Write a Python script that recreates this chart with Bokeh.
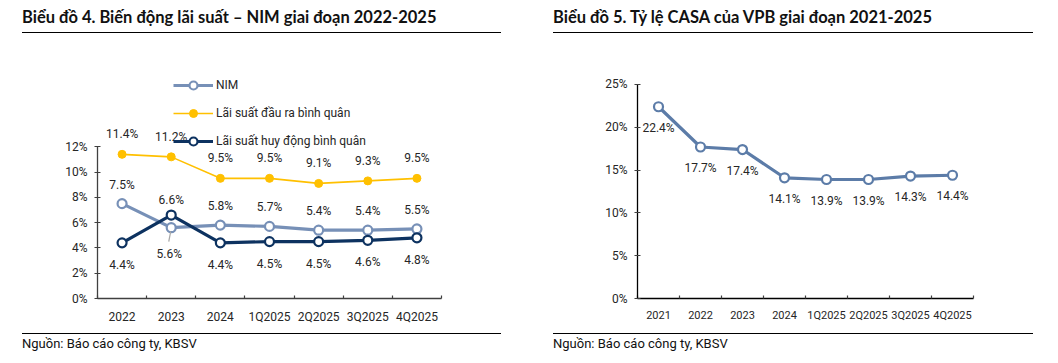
import numpy as np
from bokeh.plotting import figure
from bokeh.models import (FixedTicker, PrintfTickFormatter, Div, Legend, LegendItem,
                          Range1d)
from bokeh.layouts import column, row
from bokeh.embed import file_html
from bokeh.resources import INLINE
from bokeh.core.properties import value

# ---------------- data ----------------
categories_1 = ["2022", "2023", "2024", "1Q2025", "2Q2025", "3Q2025", "4Q2025"]
nim = [7.5, 5.6, 5.8, 5.7, 5.4, 5.4, 5.5]
lending_rate = [11.4, 11.2, 9.5, 9.5, 9.1, 9.3, 9.5]
deposit_rate = [4.4, 6.6, 4.4, 4.5, 4.5, 4.6, 4.8]
y_ticks_1 = [0, 2, 4, 6, 8, 10, 12]

categories_2 = ["2021", "2022", "2023", "2024", "1Q2025", "2Q2025", "3Q2025", "4Q2025"]
casa = [22.4, 17.7, 17.4, 14.1, 13.9, 13.9, 14.3, 14.4]
y_ticks_2 = [0, 5, 10, 15, 20, 25]

title_1 = "Biểu đồ 4. Biến động lãi suất – NIM giai đoạn 2022-2025"
title_2 = "Biểu đồ 5. Tỷ lệ CASA của VPB giai đoạn 2021-2025"
source_text = "Nguồn: Báo cáo công ty, KBSV"
legend_labels = ["NIM", "Lãi suất đầu ra bình quân", "Lãi suất huy động bình quân"]

# ---------------- style ----------------
FONT = "Roboto"
TFONT = "Lato"
FS = "12px"
TXT = "#262626"
AX = "#404040"
C_NIM = "#7790b7"
C_LEND = "#FFC000"
C_DEP = "#0d3260"
C_CASA = "#5c7ca8"
W, H = 521, 297


def fmt(v):
    return f"{v:.1f}%"


def style_axes(p, n, yticks, ymax_axis, xfs, xstand):
    centers = [2 * i + 1 for i in range(n)]
    bounds = [2 * i for i in range(n + 1)]
    p.xaxis.ticker = FixedTicker(ticks=centers, minor_ticks=bounds)
    p.xaxis.major_tick_out = 0
    p.xaxis.major_tick_in = 0
    p.xaxis.minor_tick_in = 3
    p.xaxis.minor_tick_out = 0
    p.xaxis.minor_tick_line_color = AX
    p.xaxis.minor_tick_line_width = 1.2
    p.yaxis.ticker = FixedTicker(ticks=yticks)
    p.yaxis.formatter = PrintfTickFormatter(format="%d%%")
    p.yaxis.bounds = (0, ymax_axis)
    p.yaxis.major_tick_in = 3
    p.yaxis.major_tick_out = 3
    p.yaxis.minor_tick_line_color = None
    for ax in (p.xaxis, p.yaxis):
        ax.axis_line_color = AX
        ax.axis_line_width = 1.3
        ax.major_tick_line_width = 1.2
        ax.major_label_text_font = FONT
        ax.major_label_text_font_size = FS
        ax.major_label_text_color = TXT
    p.xaxis.major_label_text_font_size = xfs
    p.xaxis.major_tick_line_color = None
    p.yaxis.major_tick_line_color = AX
    p.yaxis.major_label_standoff = 7
    p.xaxis.major_label_standoff = xstand
    p.grid.visible = False
    p.outline_line_color = None
    p.background_fill_color = "white"
    p.border_fill_color = "white"
    return centers


lab_kw = dict(text_align="center", text_baseline="middle", text_font=value(FONT),
              text_font_size=FS, text_color=TXT)

# ---------------- chart 1 ----------------
p1 = figure(width=W, height=H, output_backend="svg", toolbar_location=None,
            x_range=Range1d(0, 2 * len(categories_1)), y_range=Range1d(0, 19.61),
            min_border_left=89, min_border_right=88, min_border_top=14, min_border_bottom=33)
x1 = style_axes(p1, len(categories_1), y_ticks_1, 12, "12px", 11)
p1.xaxis.major_label_overrides = {c: lab for c, lab in zip(x1, categories_1)}

l_lend = p1.line(x1, lending_rate, line_color=C_LEND, line_width=1.6)
s_lend = p1.scatter(x1, lending_rate, size=8, marker="circle", fill_color=C_LEND, line_color=C_LEND)
l_nim = p1.line(x1, nim, line_color=C_NIM, line_width=3.2)
s_nim = p1.scatter(x1, nim, size=9, marker="circle", fill_color="white", line_color=C_NIM, line_width=2.2)
l_dep = p1.line(x1, deposit_rate, line_color=C_DEP, line_width=3.2)
s_dep = p1.scatter(x1, deposit_rate, size=9, marker="circle", fill_color="white", line_color=C_DEP, line_width=2.2)

p1.text(x1, lending_rate, text=[fmt(v) for v in lending_rate], y_offset=-20, **lab_kw)
nim_off = [-19 if a >= b else 26 for a, b in zip(nim, deposit_rate)]
p1.text(x1, nim, text=[fmt(v) for v in nim], y_offset=nim_off,
        x_offset=[0 if o < 0 else -2 for o in nim_off], **lab_kw)
dep_off = [22 if b <= a else -15 for a, b in zip(nim, deposit_rate)]
p1.text(x1, deposit_rate, text=[fmt(v) for v in deposit_rate], y_offset=dep_off, **lab_kw)

# leader line for a label placed below its point
lx0, ly0, lx1, ly1 = [], [], [], []
for xc, a, b in zip(x1, nim, deposit_rate):
    if a < b:
        lx0.append(xc - 0.02); ly0.append(a - 0.3)
        lx1.append(xc - 0.1); ly1.append(a - 1.1)
p1.segment(lx0, ly0, lx1, ly1, line_color="#a6a6a6", line_width=1.2)

legend = Legend(items=[LegendItem(label=legend_labels[0], renderers=[l_nim, s_nim]),
                       LegendItem(label=legend_labels[1], renderers=[l_lend, s_lend]),
                       LegendItem(label=legend_labels[2], renderers=[l_dep, s_dep])],
                location=(76, 147), orientation="vertical",
                border_line_color=None, background_fill_alpha=0, padding=0, margin=0,
                spacing=8, glyph_width=40, glyph_height=20, label_height=20, label_standoff=3,
                label_text_font=FONT, label_text_font_size=FS, label_text_color=TXT)
p1.add_layout(legend)

# ---------------- chart 2 ----------------
p2 = figure(width=W, height=H, output_backend="svg", toolbar_location=None,
            x_range=Range1d(0, 2 * len(categories_2)), y_range=Range1d(0, 28.97),
            min_border_left=108, min_border_right=77, min_border_top=14, min_border_bottom=35)
x2 = style_axes(p2, len(categories_2), y_ticks_2, 25, "11px", 10)
p2.xaxis.major_label_overrides = {c: lab for c, lab in zip(x2, categories_2)}
p2.xaxis.axis_line_color = "black"
p2.yaxis.axis_line_color = "black"
p2.line(x2, casa, line_color=C_CASA, line_width=3.2)
p2.scatter(x2, casa, size=9, marker="circle", fill_color="white", line_color=C_CASA, line_width=2.2)
p2.text(x2, casa, text=[fmt(v) for v in casa], y_offset=21, **lab_kw)


# ---------------- titles / sources ----------------
def title_div(txt, left, width):
    html = (f'<div style="margin-left:{left}px;width:{width}px;height:25px;'
            f'border-bottom:1.5px solid #000;font-family:{TFONT};font-weight:bold;'
            f'font-size:16.5px;color:#111;line-height:19px;white-space:nowrap;">{txt}</div>')
    return Div(text=html, width=W, height=28, margin=0)


def source_div(txt, left, width):
    html = (f'<div style="margin-left:{left}px;width:{width}px;'
            f'border-top:1.5px solid #000;font-family:{FONT};font-style:normal;'
            f'font-size:13px;color:#111;line-height:19px;white-space:nowrap;">{txt}</div>')
    return Div(text=html, width=W, height=22, margin=0)


layout = column(
    row(title_div(title_1, 14, 479), title_div(title_2, 24, 480), spacing=0),
    row(p1, p2, spacing=0),
    row(source_div(source_text, 14, 479), source_div(source_text, 24, 480), spacing=0),
    spacing=0, margin=(8, 0, 0, 8),
)

open("out.html", "w").write(file_html(layout, INLINE))
